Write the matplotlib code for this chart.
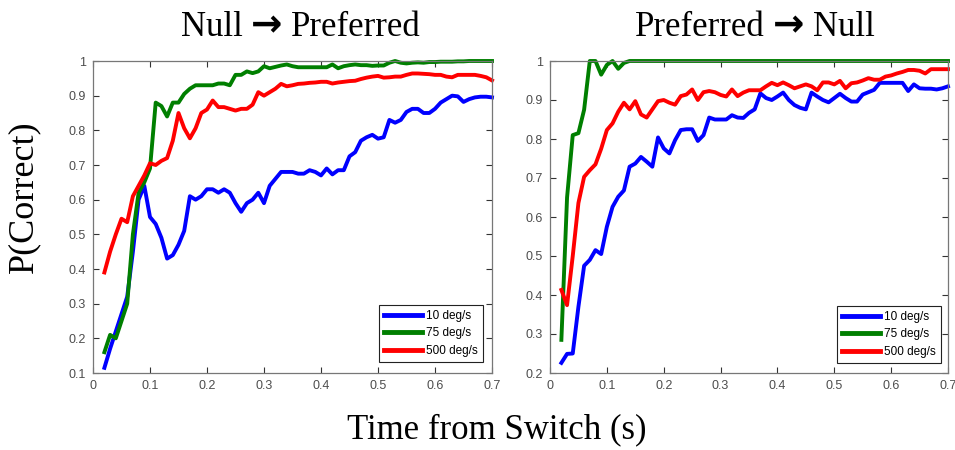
import matplotlib
matplotlib.use("Agg")
import matplotlib.pyplot as plt
import numpy as np

# time axis (s)
time_s = np.round(np.arange(0.02, 0.705, 0.01), 2)

# Null -> Preferred
null_pref_10 = [0.115, 0.17, 0.22, 0.27, 0.32, 0.45, 0.60, 0.64, 0.55, 0.53,
                0.49, 0.43, 0.44, 0.47, 0.51, 0.61, 0.60, 0.61, 0.63, 0.63,
                0.62, 0.63, 0.62, 0.59, 0.565, 0.59, 0.60, 0.62, 0.59, 0.64,
                0.66, 0.68, 0.68, 0.68, 0.675, 0.675, 0.685, 0.68, 0.67, 0.69,
                0.673, 0.685, 0.685, 0.725, 0.737, 0.77, 0.78, 0.787, 0.776, 0.78,
                0.83, 0.822, 0.83, 0.853, 0.862, 0.862, 0.85, 0.85, 0.862, 0.88,
                0.89, 0.90, 0.898, 0.882, 0.89, 0.895, 0.897, 0.897, 0.895]
null_pref_75 = [0.16, 0.21, 0.20, 0.25, 0.30, 0.50, 0.62, 0.65, 0.69, 0.88,
                0.87, 0.84, 0.88, 0.88, 0.905, 0.92, 0.93, 0.93, 0.93, 0.93,
                0.935, 0.935, 0.93, 0.96, 0.96, 0.97, 0.965, 0.97, 0.985, 0.979,
                0.983, 0.987, 0.99, 0.985, 0.982, 0.982, 0.982, 0.982, 0.982, 0.982,
                0.99, 0.979, 0.985, 0.988, 0.99, 0.988, 0.988, 0.986, 0.987, 0.987,
                0.995, 1.0, 0.995, 0.993, 0.995, 0.996, 0.995, 0.997, 0.997, 0.998,
                0.998, 0.998, 0.999, 0.999, 1.0, 1.0, 1.0, 1.0, 1.0]
null_pref_500 = [0.39, 0.45, 0.50, 0.545, 0.535, 0.61, 0.64, 0.67, 0.705, 0.70,
                 0.712, 0.72, 0.77, 0.85, 0.806, 0.777, 0.806, 0.85, 0.86, 0.886,
                 0.867, 0.867, 0.862, 0.857, 0.862, 0.862, 0.874, 0.91, 0.90, 0.91,
                 0.92, 0.934, 0.927, 0.93, 0.934, 0.935, 0.937, 0.938, 0.94, 0.94,
                 0.935, 0.938, 0.94, 0.942, 0.943, 0.948, 0.952, 0.955, 0.957, 0.952,
                 0.953, 0.955, 0.955, 0.96, 0.964, 0.964, 0.963, 0.962, 0.96, 0.96,
                 0.955, 0.953, 0.96, 0.96, 0.96, 0.96, 0.957, 0.953, 0.944]

# Preferred -> Null
pref_null_10 = [0.226, 0.249, 0.25, 0.37, 0.475, 0.49, 0.515, 0.505, 0.575, 0.626,
                0.652, 0.668, 0.729, 0.737, 0.754, 0.742, 0.729, 0.804, 0.776, 0.763,
                0.797, 0.823, 0.825, 0.825, 0.795, 0.81, 0.855, 0.85, 0.85, 0.85,
                0.861, 0.855, 0.854, 0.867, 0.876, 0.917, 0.905, 0.90, 0.909, 0.919,
                0.90, 0.887, 0.88, 0.876, 0.919, 0.909, 0.90, 0.894, 0.905, 0.916,
                0.905, 0.896, 0.896, 0.914, 0.92, 0.926, 0.944, 0.944, 0.944, 0.944,
                0.944, 0.923, 0.94, 0.93, 0.929, 0.929, 0.927, 0.93, 0.935]
pref_null_75 = [0.285, 0.65, 0.81, 0.815, 0.875, 1.0, 1.0, 0.965, 0.99, 1.0,
                0.98, 0.995, 1.0, 1.0, 1.0, 1.0, 1.0, 1.0, 1.0, 1.0,
                1.0, 1.0, 1.0, 1.0, 1.0, 1.0, 1.0, 1.0, 1.0, 1.0,
                1.0, 1.0, 1.0, 1.0, 1.0, 1.0, 1.0, 1.0, 1.0, 1.0,
                1.0, 1.0, 1.0, 1.0, 1.0, 1.0, 1.0, 1.0, 1.0, 1.0,
                1.0, 1.0, 1.0, 1.0, 1.0, 1.0, 1.0, 1.0, 1.0, 1.0,
                1.0, 1.0, 1.0, 1.0, 1.0, 1.0, 1.0, 1.0, 1.0]
pref_null_500 = [0.413, 0.374, 0.50, 0.636, 0.703, 0.72, 0.735, 0.775, 0.823, 0.84,
                 0.87, 0.893, 0.876, 0.897, 0.863, 0.855, 0.876, 0.897, 0.90, 0.893,
                 0.888, 0.91, 0.914, 0.927, 0.90, 0.92, 0.923, 0.92, 0.913, 0.909,
                 0.927, 0.91, 0.919, 0.925, 0.925, 0.925, 0.935, 0.944, 0.938, 0.945,
                 0.938, 0.93, 0.935, 0.94, 0.935, 0.925, 0.945, 0.945, 0.94, 0.949,
                 0.93, 0.943, 0.945, 0.95, 0.956, 0.952, 0.952, 0.96, 0.963, 0.968,
                 0.972, 0.977, 0.977, 0.975, 0.968, 0.979, 0.979, 0.979, 0.979]

speed_labels = ["10 deg/s", "75 deg/s", "500 deg/s"]
speed_colors = ["#0000ff", "#007f00", "#ff0000"]

x_ticks = [0, 0.1, 0.2, 0.3, 0.4, 0.5, 0.6, 0.7]
x_ticklabels = ["0", "0.1", "0.2", "0.3", "0.4", "0.5", "0.6", "0.7"]
left_yticks = [0.1, 0.2, 0.3, 0.4, 0.5, 0.6, 0.7, 0.8, 0.9, 1.0]
right_yticks = [0.2, 0.3, 0.4, 0.5, 0.6, 0.7, 0.8, 0.9, 1.0]

SERIF = ["Liberation Serif", "DejaVu Serif"]
TICK_FONT = "Liberation Sans"
W, H = 955, 450


def style_axes(ax, yticks, ylim):
    ax.set_xlim(0, 0.7)
    ax.set_ylim(*ylim)
    ax.set_xticks(x_ticks)
    ax.set_xticklabels(x_ticklabels)
    ax.set_yticks(yticks)
    ax.set_yticklabels([f"{v:g}" for v in yticks])
    ax.tick_params(direction="in", top=True, right=True, length=4, width=0.8,
                   colors="#333333", labelcolor="#4d4d4d", labelsize=9, pad=5)
    for lab in ax.get_xticklabels() + ax.get_yticklabels():
        lab.set_family(TICK_FONT)
    for sp in ax.spines.values():
        sp.set_color("#777777")
        sp.set_linewidth(0.9)


def draw_panel(ax, series, yticks, ylim, anchor):
    for vals, lab, col in zip(series, speed_labels, speed_colors):
        ax.plot(time_s, vals, color=col, lw=2.8, label=lab, clip_on=False,
                solid_joinstyle="round")
    style_axes(ax, yticks, ylim)
    leg = ax.legend(loc="lower right", bbox_to_anchor=anchor, borderaxespad=0,
                    fancybox=False, framealpha=1, edgecolor="#222222",
                    prop={"family": TICK_FONT, "size": 8.5}, handlelength=3.2,
                    handletextpad=0.35, labelspacing=0.45, borderpad=0.45)
    leg.get_frame().set_linewidth(0.8)
    for line in leg.get_lines():
        line.set_linewidth(3.5)


def arrow_title(fig, x_px, base_px, left, right):
    size = 25
    t1 = fig.text(x_px / W, 1 - base_px / H, left, family=SERIF, size=size,
                  va="baseline", ha="left")
    t2 = fig.add_artist(plt.Annotation("\u2192", xy=(1, 0), xycoords=t1,
                                       xytext=(6, 0), textcoords="offset points",
                                       family="DejaVu Sans", weight="bold",
                                       size=size + 2, va="bottom", ha="left"))
    fig.add_artist(plt.Annotation(right, xy=(1, 0), xycoords=t2,
                                  xytext=(6, 0), textcoords="offset points",
                                  family=SERIF, size=size, va="bottom", ha="left"))


fig = plt.figure(figsize=(9.55, 4.5), dpi=100)
ax_l = fig.add_axes([93 / W, 77 / H, 399 / W, 312 / H])
ax_r = fig.add_axes([550 / W, 77 / H, 398 / W, 312 / H])

draw_panel(ax_l, [null_pref_10, null_pref_75, null_pref_500], left_yticks,
           (0.1, 1.0), (0.978, 0.035))
draw_panel(ax_r, [pref_null_10, pref_null_75, pref_null_500], right_yticks,
           (0.2, 1.0), (0.982, 0.032))

arrow_title(fig, 181, 36, "Null", "Preferred")
arrow_title(fig, 635, 36, "Preferred", "Null")

fig.text(24 / W, 1 - 197 / H, "P(Correct)", family=SERIF, size=26,
         rotation=90, ha="center", va="center")
fig.text(497 / W, 1 - 430 / H, "Time from Switch (s)", family=SERIF, size=25,
         ha="center", va="center")

fig.savefig("out.png", dpi=100)
